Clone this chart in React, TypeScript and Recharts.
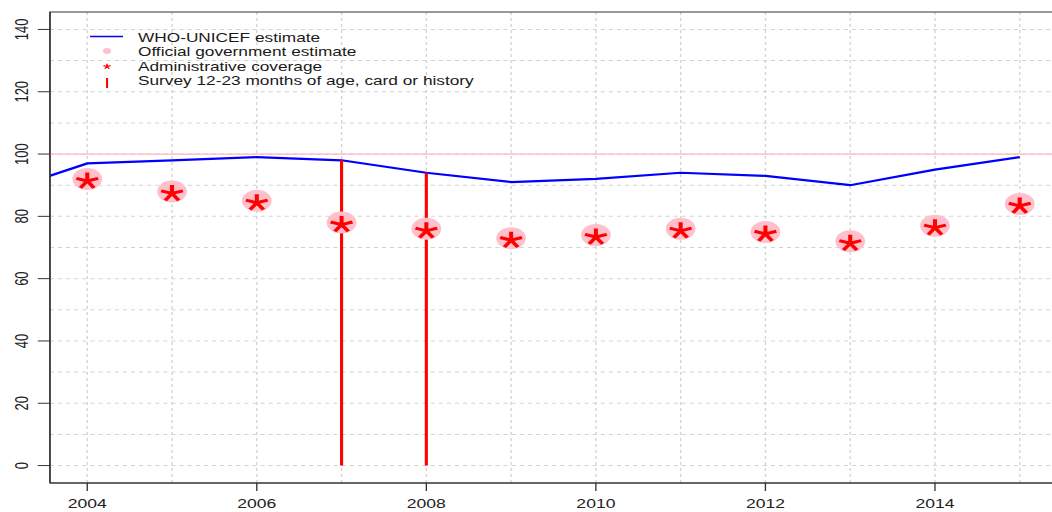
import React from 'react';
import {
  ComposedChart,
  Line,
  Scatter,
  XAxis,
  YAxis,
  CartesianGrid,
  ReferenceLine,
  ReferenceArea,
  Legend
} from 'recharts';

// WHO-UNICEF estimates (2003 point sits just off the left edge)
const years = [2003, 2004, 2005, 2006, 2007, 2008, 2009, 2010, 2011, 2012, 2013, 2014, 2015];
const whoUnicef = [88, 97, 98, 99, 98, 94, 91, 92, 94, 93, 90, 95, 99];

// official government estimate / administrative coverage
const reportYears = [2004, 2005, 2006, 2007, 2008, 2009, 2010, 2011, 2012, 2013, 2014, 2015];
const officialEstimate = [92, 88, 85, 78, 76, 73, 74, 76, 75, 72, 77, 84];
const adminCoverage = [92, 88, 85, 78, 76, 73, 74, 76, 75, 72, 77, 84];

// surveys 12-23 months of age, card or history
const surveyYears = [2007, 2008];
const surveyCoverage = [98, 94];

const targetLevel = 100;

const xTicks = [2004, 2006, 2008, 2010, 2012, 2014];
const yTicks = [0, 20, 40, 60, 80, 100, 120, 140];
const gridX = [2004, 2005, 2006, 2007, 2008, 2009, 2010, 2011, 2012, 2013, 2014, 2015];
const gridY = [0, 10, 20, 30, 40, 50, 60, 70, 80, 90, 100, 110, 120, 130, 140];

const xDomain = [2003.56, 2015.44];
const yDomain = [-5.6, 145.6];

const whoRows = years.map((year, i) => ({ year, value: whoUnicef[i] }));
const officialRows = reportYears.map((year, i) => ({ year, value: officialEstimate[i] }));
const adminRows = reportYears.map((year, i) => ({ year, value: adminCoverage[i] }));

const FONT = '"Liberation Sans", Arial, sans-serif';
const STRETCH = 1.35;

const starPath = (cx: number, cy: number, r: number) => {
  let d = '';
  for (let k = 0; k < 5; k++) {
    const a = (-90 + k * 72) * Math.PI / 180;
    d += `M${cx},${cy}L${cx + r * Math.cos(a)},${cy + r * Math.sin(a)}`;
  }
  return d;
};

const Blob = (props: any) => {
  const { cx, cy } = props;
  if (cx == null || cy == null) return null;
  return <circle cx={cx} cy={cy} r={11} fill="#FFC0CB" />;
};

const Star = (props: any) => {
  const { cx, cy } = props;
  if (cx == null || cy == null) return null;
  return <path d={starPath(cx, cy + 2, 8.5)} stroke="#FF0000" strokeWidth={3} fill="none" strokeLinecap="butt" />;
};

const YTick = (props: any) => {
  const { x, y, payload } = props;
  return (
    <text
      transform={`translate(${x - 5},${y}) rotate(-90)`}
      textAnchor="middle"
      fontSize={13}
      fill="#222"
      fontFamily={FONT}
    >
      {payload.value}
    </text>
  );
};

const legendRows = [
  'WHO-UNICEF estimate',
  'Official government estimate',
  'Administrative coverage',
  'Survey 12-23 months of age, card or history'
];

const renderLegend = () => {
  const rowY = [37.5, 52, 66.5, 81];
  const mx = 79.3;
  return (
    <svg width={400} height={100} style={{ overflow: 'visible' }}>
      <line x1={66.7} x2={91.1} y1={rowY[0] - 1} y2={rowY[0] - 1} stroke="#0000FF" strokeWidth={1.4} />
      <circle cx={mx} cy={rowY[1] - 1} r={3} fill="#FFC0CB" />
      <path d={starPath(mx, rowY[2], 2.8)} stroke="#FF0000" strokeWidth={1.1} fill="none" />
      <line x1={mx} x2={mx} y1={rowY[3] - 3} y2={rowY[3] + 7} stroke="#FF0000" strokeWidth={1.5} />
      {legendRows.map((label, i) => (
        <text key={label} x={102.2} y={rowY[i]} dy="0.35em" fontSize={12.8} fill="#1a1a1a" fontFamily={FONT}>
          {label}
        </text>
      ))}
    </svg>
  );
};

export default function App() {
  return (
    <div style={{ position: 'absolute', left: 0, top: 0, width: 1052, height: 512, overflow: 'hidden', background: '#fff' }}>
      <div style={{ width: 784, height: 512, transform: `scaleX(${STRETCH})`, transformOrigin: '0 0' }}>
        <ComposedChart
          width={784}
          height={512}
          margin={{ top: 12, right: 1, left: 0, bottom: 0 }}
          style={{ fontFamily: FONT }}
        >
          <CartesianGrid
            stroke="#D3D3D3"
            strokeDasharray="3 3"
            horizontalValues={gridY}
            verticalValues={gridX}
          />
          <XAxis
            type="number"
            dataKey="year"
            domain={xDomain}
            allowDataOverflow
            ticks={xTicks}
            tickSize={8}
            tickMargin={8}
            height={29}
            stroke="#333"
            tick={{ fontSize: 13, fill: '#222', fontFamily: FONT }}
          />
          <YAxis
            type="number"
            domain={yDomain}
            allowDataOverflow
            ticks={yTicks}
            tickSize={9}
            width={37}
            stroke="#333"
            tick={<YTick />}
          />
          <ReferenceArea
            x1={xDomain[0]}
            x2={xDomain[1]}
            y1={yDomain[0]}
            y2={yDomain[1]}
            fill="none"
            fillOpacity={0}
            stroke="#333"
            strokeWidth={1}
          />
          <ReferenceLine y={targetLevel} stroke="#FFB6C1" strokeWidth={1.2} />
          <Line
            data={whoRows}
            dataKey="value"
            type="linear"
            stroke="#0000FF"
            strokeWidth={2.2}
            dot={false}
            activeDot={false}
            isAnimationActive={false}
          />
          <Scatter data={officialRows} dataKey="value" shape={<Blob />} isAnimationActive={false} />
          <Scatter data={adminRows} dataKey="value" shape={<Star />} isAnimationActive={false} />
          {surveyYears.map((yr, i) => (
            <ReferenceLine
              key={yr}
              segment={[{ x: yr, y: 0 }, { x: yr, y: surveyCoverage[i] }]}
              stroke="#FF0000"
              strokeWidth={2.3}
            />
          ))}
          <Legend
            content={renderLegend}
            layout="vertical"
            align="center"
            verticalAlign="middle"
            wrapperStyle={{ left: 0, top: 0, width: 400, height: 100 }}
          />
        </ComposedChart>
      </div>
    </div>
  );
}
